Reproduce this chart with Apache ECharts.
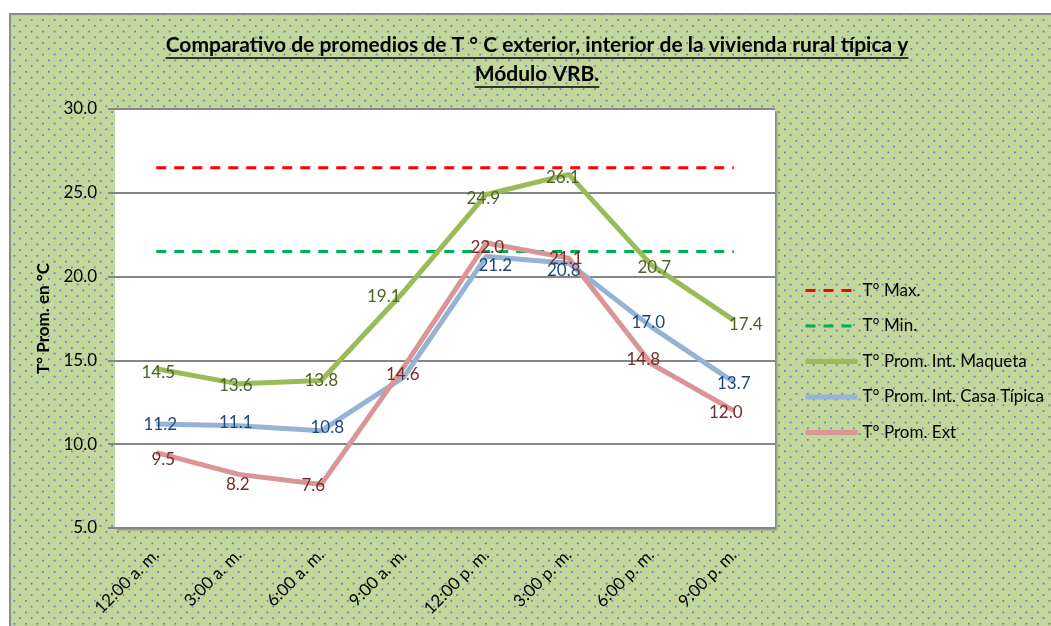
<!DOCTYPE html>
<html>
<head>
<meta charset="utf-8">
<script src="https://cdn.jsdelivr.net/npm/echarts@6/dist/echarts.min.js"></script>
<style>
  html, body { margin: 0; padding: 0; background: #ffffff; }
  #chart { width: 1051px; height: 626px; }
</style>
</head>
<body>
<div id="chart"></div>
<script>
// Hours of the day (categories)
const categories = ['12:00 a. m.', '3:00 a. m.', '6:00 a. m.', '9:00 a. m.', '12:00 p. m.', '3:00 p. m.', '6:00 p. m.', '9:00 p. m.'];
// Reference limits
const tMax = [26.5, 26.5, 26.5, 26.5, 26.5, 26.5, 26.5, 26.5];
const tMin = [21.5, 21.5, 21.5, 21.5, 21.5, 21.5, 21.5, 21.5];
// Average temperatures (°C)
const maqueta = [14.5, 13.6, 13.8, 19.1, 24.9, 26.1, 20.7, 17.4];
const casaTipica = [11.2, 11.1, 10.8, 14.0, 21.2, 20.8, 17.0, 13.7];
const exterior = [9.5, 8.2, 7.6, 14.6, 22.0, 21.1, 14.8, 12.0];
// Points whose value label is not printed
const casaTipicaHiddenLabels = [3];
// Value axis ticks
const yTicks = { min: 5, max: 30, interval: 5 };

// Small nudges of individual value labels, in pixels
const maquetaLabelShift = [[2, 4], [-3, 2], [0, 0], [-20, 5], [-3, 4], [-6, 3], [3, 3], [12, 4]];
const casaLabelShift = [[4, 0], [-3, -3], [6, -3], [0, 0], [9, 9], [-5, 7], [-3, -4], [0, 1]];
const extLabelShift = [[7, 7], [-1, 10], [-8, 1], [-1, 7], [1, 4], [-3, 0], [-8, -4], [-8, 2]];

const titleLines = ['Comparativo de promedios de T ° C exterior, interior de la vivienda rural típica y', 'Módulo VRB.'];
const FONT = 'Lato, "Open Sans", sans-serif';
const FS = 17;

// Dotted-grid fill used for the chart area
function dotTile() {
  const c = document.createElement('canvas');
  c.width = 23; c.height = 23;
  const g = c.getContext('2d');
  g.fillStyle = '#c4d79b';
  g.fillRect(0, 0, 23, 23);
  g.fillStyle = 'rgba(70,120,205,0.9)';
  for (let j = 0; j < 4; j++) {
    for (let i = 0; i < 2; i++) {
      const x = 11.5 * i + (j % 2 ? 5.75 : 0) + 2;
      const y = 5.75 * j + 2;
      g.fillRect(x, y, 1.7, 1.7);
    }
  }
  return c;
}

// Measure title lines to place their underlines
const mctx = document.createElement('canvas').getContext('2d');
const titleFont = 'bold 21px ' + FONT;
mctx.font = titleFont;
const titleCx = 537;
const titleY = [45, 74];
const underline = titleLines.map((t, i) => {
  const w = mctx.measureText(t).width;
  return {
    type: 'line',
    z: 5,
    shape: { x1: titleCx - w / 2, y1: titleY[i] + 13, x2: titleCx + w / 2, y2: titleY[i] + 13 },
    style: { stroke: '#000', lineWidth: 1.5 }
  };
});

function labelFor(color) {
  return { show: true, position: 'inside', color: color, fontSize: FS, fontFamily: FONT,
           formatter: p => p.value.toFixed(1) };
}

function withLabelShift(values, shifts, hidden) {
  return values.map((v, i) => ({
    value: v,
    label: (hidden || []).includes(i) ? { show: false } : { offset: shifts[i] }
  }));
}

const chart = echarts.init(document.getElementById('chart'), null, { renderer: 'canvas' });
chart.setOption({
  backgroundColor: '#ffffff',
  animation: false,
  textStyle: { fontFamily: FONT },
  graphic: [
    { type: 'rect', z: -10, shape: { x: 10, y: 14, width: 1050, height: 620 },
      style: { fill: { image: dotTile(), repeat: 'repeat' }, stroke: '#8a8a8a', lineWidth: 2 } },
    { type: 'rect', z: -9, shape: { x: 115, y: 109, width: 660, height: 419 },
      style: { fill: '#ffffff', shadowColor: 'rgba(0,0,0,0.35)', shadowOffsetX: 2, shadowOffsetY: 2, shadowBlur: 2 } },
    { type: 'text', z: 5, style: { text: titleLines[0], x: titleCx, y: titleY[0], align: 'center', verticalAlign: 'middle',
        font: titleFont, fill: '#000' } },
    { type: 'text', z: 5, style: { text: titleLines[1], x: titleCx, y: titleY[1], align: 'center', verticalAlign: 'middle',
        font: titleFont, fill: '#000' } }
  ].concat(underline),
  grid: { left: 115, right: 276, top: 109, bottom: 98, containLabel: false },
  legend: {
    orient: 'vertical', left: 798, top: 277, itemWidth: 52, itemHeight: 14, itemGap: 18.5,
    textStyle: { fontSize: FS, color: '#000', fontFamily: FONT },
    itemStyle: { opacity: 0 },
    lineStyle: { width: 'inherit' },
    data: ['T° Max.', 'T° Min.', 'T° Prom. Int. Maqueta', 'T° Prom. Int. Casa Típica', 'T° Prom. Ext']
  },
  xAxis: {
    type: 'category', data: categories, boundaryGap: true,
    axisLine: { show: true, lineStyle: { color: '#868686', width: 2 } },
    axisTick: { show: false },
    axisLabel: { rotate: 45, margin: 24, fontSize: FS, color: '#000', fontFamily: FONT, interval: 0 }
  },
  yAxis: {
    type: 'value', min: yTicks.min, max: yTicks.max, interval: yTicks.interval,
    name: 'T° Prom. en °C', nameLocation: 'middle', nameGap: 58, nameRotate: 90,
    nameTextStyle: { fontSize: FS, fontWeight: 'bold', color: '#000', fontFamily: FONT },
    axisLine: { show: false },
    axisTick: { show: true, length: 7, lineStyle: { color: '#868686', width: 2 } },
    axisLabel: { margin: 18, fontSize: FS, color: '#000', fontFamily: FONT, formatter: v => v.toFixed(1) },
    splitLine: { show: true, lineStyle: { color: '#868686', width: 2 } }
  },
  series: [
    { name: 'T° Max.', type: 'line', data: tMax, symbol: 'none', silent: true,
      lineStyle: { color: '#ff0000', width: 3, type: [10, 8] }, itemStyle: { color: '#ff0000' } },
    { name: 'T° Min.', type: 'line', data: tMin, symbol: 'none', silent: true,
      lineStyle: { color: '#00b050', width: 3, type: [10, 8] }, itemStyle: { color: '#00b050' } },
    { name: 'T° Prom. Int. Maqueta', type: 'line', symbol: 'circle', symbolSize: 1,
      data: withLabelShift(maqueta, maquetaLabelShift),
      lineStyle: { color: '#9bbb59', width: 5 }, itemStyle: { color: '#9bbb59' },
      label: labelFor('#4f6228') },
    { name: 'T° Prom. Int. Casa Típica', type: 'line', symbol: 'circle', symbolSize: 1,
      data: withLabelShift(casaTipica, casaLabelShift, casaTipicaHiddenLabels),
      lineStyle: { color: '#95b3d7', width: 5 }, itemStyle: { color: '#95b3d7' },
      label: labelFor('#1f497d') },
    { name: 'T° Prom. Ext', type: 'line', symbol: 'circle', symbolSize: 1,
      data: withLabelShift(exterior, extLabelShift),
      lineStyle: { color: '#d99694', width: 5 }, itemStyle: { color: '#d99694' },
      label: labelFor('#772c2a') }
  ]
});
</script>
</body>
</html>
